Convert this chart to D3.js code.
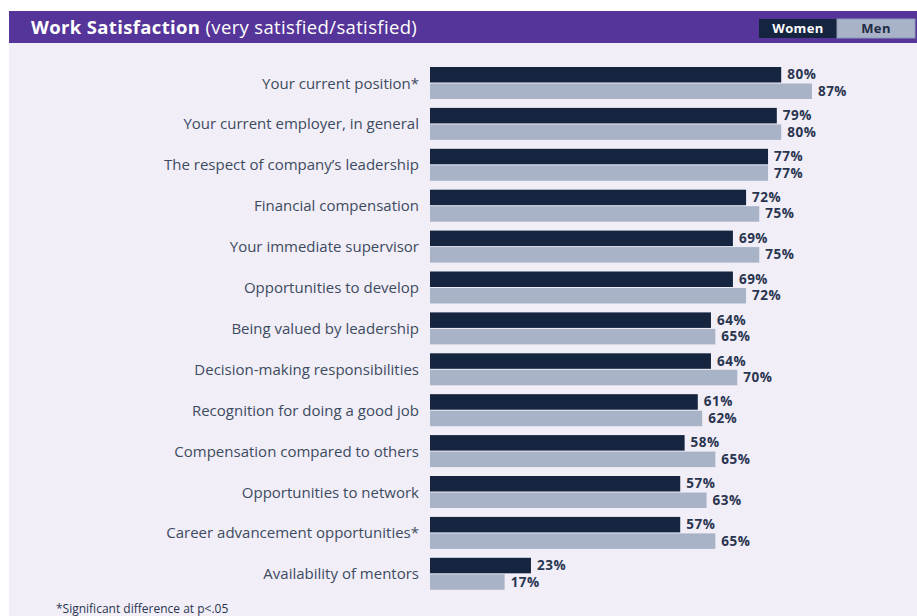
<!DOCTYPE html>
<html>
<head>
<meta charset="utf-8">
<script src="https://cdn.jsdelivr.net/npm/d3@7"></script>
<style>
  html, body { margin: 0; padding: 0; background: #ffffff; }
  svg { display: block; font-family: "Open Sans", "Noto Sans", sans-serif; }
</style>
</head>
<body>
<svg id="chart" width="917" height="616"></svg>
<script>
// Share of respondents very satisfied/satisfied, by item
const categories = [
  "Your current position*",
  "Your current employer, in general",
  "The respect of company\u2019s leadership",
  "Financial compensation",
  "Your immediate supervisor",
  "Opportunities to develop",
  "Being valued by leadership",
  "Decision-making responsibilities",
  "Recognition for doing a good job",
  "Compensation compared to others",
  "Opportunities to network",
  "Career advancement opportunities*",
  "Availability of mentors"
];
const women = [80, 79, 77, 72, 69, 69, 64, 64, 61, 58, 57, 57, 23];
const men   = [87, 80, 77, 75, 75, 72, 65, 70, 62, 65, 63, 65, 17];
const seriesNames = ["Women", "Men"];
const colors = { Women: "#15243f", Men: "#a8b3c8" };

const svg = d3.select("#chart");
const W = 917, H = 616;

// panel background
svg.append("rect").attr("x", 9).attr("y", 11).attr("width", W - 9).attr("height", H - 11)
  .attr("fill", "#f1eef8");

// header band
svg.append("rect").attr("x", 9).attr("y", 11).attr("width", W - 9).attr("height", 32)
  .attr("fill", "#553599");

const title = svg.append("text").attr("x", 31).attr("y", 33.5)
  .attr("fill", "#ffffff").style("font-size", "18.5px").style("letter-spacing", "0.35px");
title.append("tspan").attr("font-weight", "bold").text("Work Satisfaction");
title.append("tspan").text(" (very satisfied/satisfied)");

// legend boxes in header
const legX = d3.scaleBand().domain(seriesNames).range([759, 915]).paddingInner(0);
const leg = svg.append("g");
seriesNames.forEach(s => {
  leg.append("rect").attr("x", legX(s)).attr("y", 19).attr("width", legX.bandwidth()).attr("height", 19)
    .attr("fill", colors[s]).attr("stroke", s === "Men" ? "#8f9bb5" : "none").attr("stroke-width", 1);
  leg.append("text").attr("x", legX(s) + legX.bandwidth() / 2).attr("y", 33)
    .attr("text-anchor", "middle").attr("font-weight", "bold").style("font-size", "13px")
    .style("letter-spacing", "0.4px")
    .attr("fill", s === "Women" ? "#ffffff" : "#1f2c45").text(s);
});

// scales
const x = d3.scaleLinear().domain([0, 100]).range([430, 430 + 439]);
const y = d3.scaleBand().domain(categories).range([67, 67 + 40.9 * categories.length]).paddingInner(0);
const sub = d3.scaleBand().domain(seriesNames).range([0, 32]).paddingInner(0.06);

const rows = svg.append("g").selectAll("g").data(categories).join("g")
  .attr("transform", d => `translate(0,${y(d)})`);

// category labels
rows.append("text")
  .attr("x", 419).attr("y", 16 + 5.5)
  .attr("text-anchor", "end").attr("fill", "#3d4b5e").style("font-size", "15px")
  .text(d => d);

const rowData = (d, i) => [
  { s: "Women", v: women[i] },
  { s: "Men", v: men[i] }
];

const bars = rows.selectAll("g.bar").data(rowData).join("g").attr("class", "bar");
bars.append("rect")
  .attr("x", x(0)).attr("y", d => sub(d.s))
  .attr("width", d => x(d.v) - x(0)).attr("height", sub.bandwidth())
  .attr("fill", d => colors[d.s]);

bars.append("text")
  .attr("x", d => x(d.v) + 6).attr("y", d => sub(d.s) + sub.bandwidth() / 2 + 4.5)
  .attr("fill", "#2a3550").attr("font-weight", "bold").style("font-size", "13.5px")
  .style("letter-spacing", "0.5px")
  .text(d => d.v + "%");

// footnote
svg.append("text").attr("x", 56).attr("y", 613)
  .attr("fill", "#2a3550").style("font-size", "12px")
  .text("*Significant difference at p<.05");
</script>
</body>
</html>
